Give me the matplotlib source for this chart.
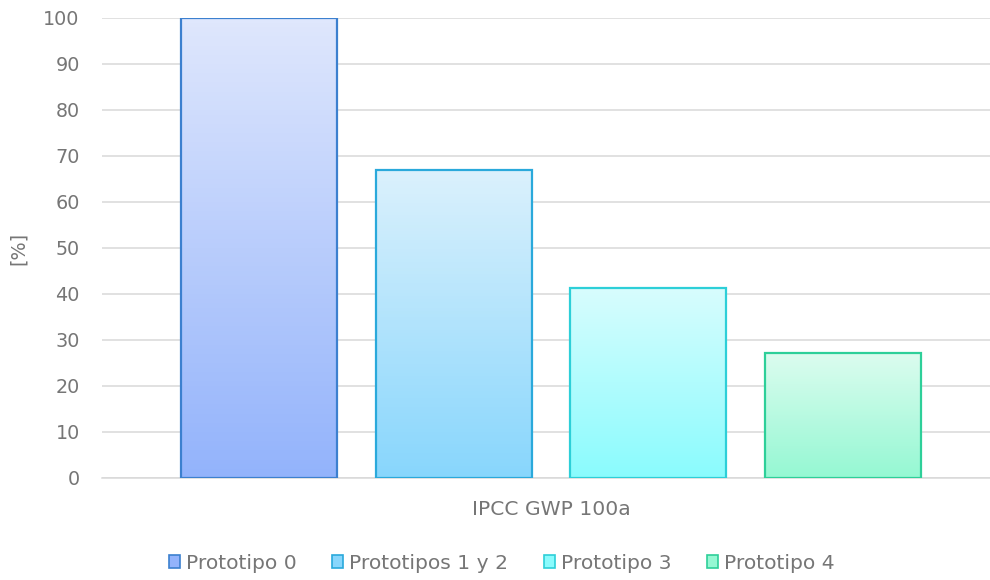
import numpy as np
import matplotlib.pyplot as plt
from matplotlib.colors import to_rgb
from matplotlib.patches import Patch

# Datos
categoria = 'IPCC GWP 100a'
series = ['Prototipo 0', 'Prototipos 1 y 2', 'Prototipo 3', 'Prototipo 4']
valores = [100, 67, 41.4, 27.2]

# Colores (arriba, abajo, borde)
color_arriba = ['#dfe7fd', '#dbf1fc', '#d8fdfe', '#dcfcef']
color_abajo = ['#93b3fb', '#88d6fc', '#8afbfd', '#95f8d3']
color_borde = ['#3c80cf', '#2aa9db', '#2dcfd8', '#2ecf99']

plt.rcParams['font.family'] = ['DejaVu Sans']
gris = '#767676'
tam = 13.8
tam_leyenda = 14.6

fig = plt.figure(figsize=(9.9, 5.8), dpi=100)
ax = fig.add_axes([0.103, 0.176, 0.907, 0.793])

ancho = 0.1737
paso = 0.2166
for i, (v, ca, cb, ce) in enumerate(zip(valores, color_arriba, color_abajo, color_borde)):
    x = (i - 1.5) * paso
    bar = ax.bar(x, v, width=ancho, facecolor='none', edgecolor=ce, linewidth=1.6, zorder=4)[0]
    grad = np.linspace(0, 1, 100)[:, None]
    c0 = np.array(to_rgb(ca))
    c1 = np.array(to_rgb(cb))
    img = c0[None, None, :] * (1 - grad[:, :, None]) + c1[None, None, :] * grad[:, :, None]
    im = ax.imshow(img, extent=(x - ancho / 2, x + ancho / 2, 0, v), aspect='auto',
                   origin='upper', zorder=3)
    im.set_clip_path(bar)

ax.set_xlim(-0.5, 0.5)
ax.set_ylim(0, 100)
ax.set_yticks(range(0, 101, 10))
ax.set_xticks([0])
ax.set_xticklabels([categoria])
ax.grid(axis='y', color='#d9d9d9', linewidth=1.1, zorder=0)
ax.set_axisbelow(True)
for s in ['top', 'right', 'left']:
    ax.spines[s].set_visible(False)
ax.spines['bottom'].set_color('#d9d9d9')
ax.spines['bottom'].set_linewidth(1.1)
ax.tick_params(axis='y', length=0, pad=16, labelsize=tam, labelcolor=gris)
ax.tick_params(axis='x', length=0, pad=16, labelsize=tam_leyenda, labelcolor=gris)
ax.set_ylabel('[%]', fontsize=tam, color=gris, labelpad=11)

handles = [Patch(facecolor=cb, edgecolor=ce, linewidth=1.2) for cb, ce in zip(color_abajo, color_borde)]
fig.legend(handles, series, loc='center', bbox_to_anchor=(0.507, 0.029), ncol=4, frameon=False,
           fontsize=tam_leyenda, labelcolor=gris, handlelength=0.55, handleheight=0.55,
           handletextpad=0.3, columnspacing=1.75)

fig.savefig('out.png', dpi=100)
